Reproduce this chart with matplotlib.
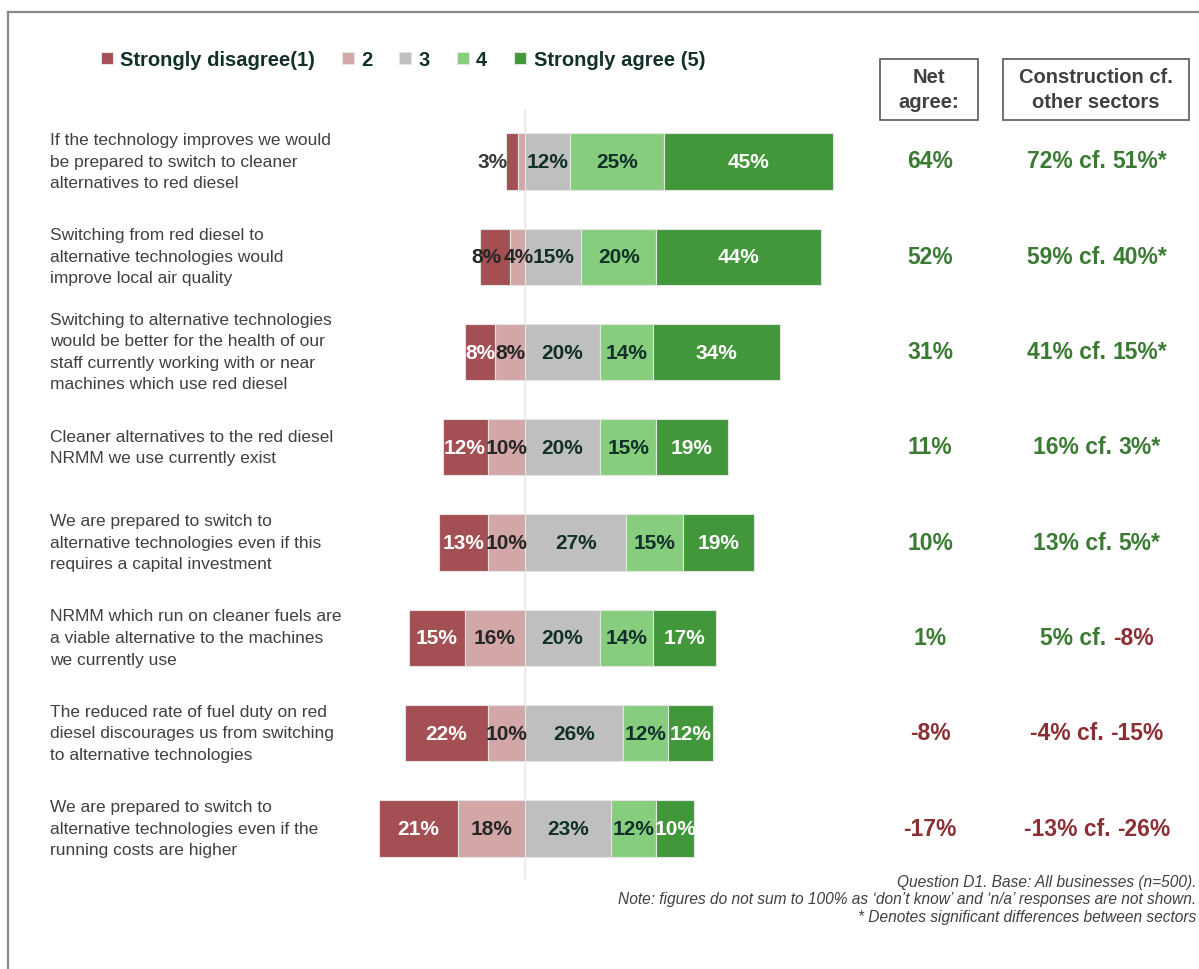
"""Diverging stacked bars: attitudes to switching away from red diesel."""
import matplotlib
matplotlib.use("Agg")
import matplotlib.pyplot as plt
from matplotlib.lines import Line2D
from matplotlib.patches import Rectangle

plt.rcParams["font.family"] = ["Liberation Sans", "DejaVu Sans"]

W, H = 1199, 970

statements = [
    "If the technology improves we would\nbe prepared to switch to cleaner\nalternatives to red diesel",
    "Switching from red diesel to\nalternative technologies would\nimprove local air quality",
    "Switching to alternative technologies\nwould be better for the health of our\nstaff currently working with or near\nmachines which use red diesel",
    "Cleaner alternatives to the red diesel\nNRMM we use currently exist",
    "We are prepared to switch to\nalternative technologies even if this\nrequires a capital investment",
    "NRMM which run on cleaner fuels are\na viable alternative to the machines\nwe currently use",
    "The reduced rate of fuel duty on red\ndiesel discourages us from switching\nto alternative technologies",
    "We are prepared to switch to\nalternative technologies even if the\nrunning costs are higher",
]
strongly_disagree = [3, 8, 8, 12, 13, 15, 22, 21]
disagree = [2, 4, 8, 10, 10, 16, 10, 18]
neutral = [12, 15, 20, 20, 27, 20, 26, 23]
agree = [25, 20, 14, 15, 15, 14, 12, 12]
strongly_agree = [45, 44, 34, 19, 19, 17, 12, 10]
net_agree = [64, 52, 31, 11, 10, 1, -8, -17]
construction = [72, 59, 41, 16, 13, 5, -4, -13]
other_sectors = [51, 40, 15, 3, 5, -8, -15, -26]
significant = [True, True, True, True, True, False, False, False]
legend_labels = ["Strongly disagree(1)", "2", "3", "4", "Strongly agree (5)"]

C_SD, C_D, C_N, C_A, C_SA = "#A34F53", "#D3A7A8", "#BFBFBF", "#86CE7E", "#43973B"
POS, NEG = "#3B7A33", "#8C2F35"
DARK = "#12302A"

fig = plt.figure(figsize=(W / 100, H / 100), dpi=100)

# grey frame (only top and left edges fall inside the canvas)
fig.add_artist(Line2D([8 / W, 8 / W], [0, 1 - 13 / H], color="#8a8a8a", lw=1.6))
fig.add_artist(Line2D([8 / W, 1], [1 - 13 / H, 1 - 13 / H], color="#8a8a8a", lw=1.6))

ax = fig.add_axes([360 / W, 1 - 880 / H, 500 / W, 770 / H])
ax.set_xlim(-44, 89.3)
ax.set_ylim(7.53, -0.55)
ax.axis("off")
ax.axvline(0, color="#ececec", lw=1.5, zorder=0)

ypos = list(range(len(statements)))
bh = 0.59
edge = dict(edgecolor="#e4e4e4", linewidth=0.8)

left_sd = [-(a + b) for a, b in zip(strongly_disagree, disagree)]
left_d = [-b for b in disagree]
left_a = [n for n in neutral]
left_sa = [n + a for n, a in zip(neutral, agree)]

segments = [
    (strongly_disagree, left_sd, C_SD, "white"),
    (disagree, left_d, C_D, "#262626"),
    (neutral, [0] * len(neutral), C_N, DARK),
    (agree, left_a, C_A, DARK),
    (strongly_agree, left_sa, C_SA, "white"),
]
# first-row/second-row strongly-disagree labels are printed dark
sd_label_colors = ["#3a3a3a", "#262626"] + ["white"] * 6

handles = []
for k, (vals, lefts, color, tcolor) in enumerate(segments):
    bars = ax.barh(ypos, vals, left=lefts, height=bh, color=color, zorder=2, **edge)
    handles.append(bars)
    for i, (v, l) in enumerate(zip(vals, lefts)):
        if v < 3:
            continue
        tc = sd_label_colors[i] if k == 0 else tcolor
        if v <= 3:
            # too narrow: label sits just outside the bar
            ax.text(l + 0.4, i, f"{v}%", ha="right", va="center", fontsize=15,
                    fontweight="bold", color=tc, zorder=4)
        else:
            # nudge labels of narrow neighbouring segments apart a little
            dx = 0
            if disagree[i] < 5:
                dx = {0: -2.3, 1: 0.4}.get(k, 0)
            ax.text(l + v / 2 + dx, i, f"{v}%", ha="center", va="center",
                    fontsize=15, fontweight="bold", color=tc, zorder=4)

# statement labels
for i, s in enumerate(statements):
    y = 1 - (162 + i * 95.3) / H
    fig.text(50 / W, y, s, ha="left", va="center", fontsize=12.5, color="#404040",
             linespacing=1.55)

# column headers in boxes
for x0, x1, txt in [(880, 978, "Net\nagree:"), (1003, 1189, "Construction cf.\nother sectors")]:
    fig.add_artist(Rectangle((x0 / W, 1 - 121 / H), (x1 - x0) / W, 61 / H,
                             fill=False, edgecolor="#595959", lw=1.2,
                             transform=fig.transFigure))
    fig.text((x0 + x1) / 2 / W, 1 - 90 / H, txt, ha="center", va="center",
             fontsize=14.5, fontweight="bold", color="#404040", linespacing=1.45)


def col(v):
    return POS if v >= 0 else NEG


fig.canvas.draw()
renderer = fig.canvas.get_renderer()
for i in ypos:
    y = 1 - (162 + i * 95.3) / H
    fig.text(930 / W, y, f"{net_agree[i]}%", ha="center", va="center",
             fontsize=16.5, fontweight="bold", color=col(net_agree[i]))
    part1 = f"{construction[i]}% cf. "
    part2 = f"{other_sectors[i]}%" + ("*" if significant[i] else "")
    style = dict(fontsize=16.5, fontweight="bold", va="center")
    probe = fig.text(1097 / W, y, part1 + part2, ha="center", alpha=0, **style)
    bb = probe.get_window_extent(renderer)
    fig.text(bb.x0 / W, y, part1, ha="left", color=col(construction[i]), **style)
    fig.text(bb.x1 / W, y, part2, ha="right", color=col(other_sectors[i]), **style)

ax.legend(handles, legend_labels, loc="upper left", bbox_to_anchor=(-0.555, 1.1),
          ncol=5, frameon=False, handlelength=0.6, handleheight=0.6,
          handletextpad=0.35, columnspacing=1.35,
          prop=dict(size=14.5, weight="bold"), labelcolor=DARK)

notes = ("Question D1. Base: All businesses (n=500).\n"
         "Note: figures do not sum to 100% as \u2018don\u2019t know\u2019 and \u2018n/a\u2019 responses are not shown.\n"
         "* Denotes significant differences between sectors")
fig.text(1196 / W, 1 - 900 / H, notes, ha="right", va="center", fontsize=11.2,
         style="italic", color="#404040", linespacing=1.2)

fig.savefig("out.png", dpi=100)
